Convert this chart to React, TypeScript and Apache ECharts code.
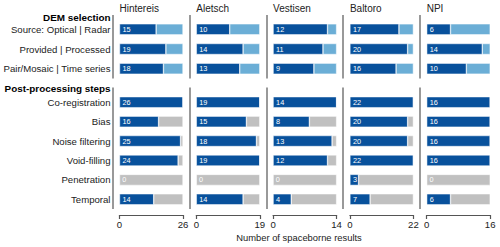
import React, { useEffect, useRef } from "react";
import * as echarts from "echarts";

const panels = ["Hintereis", "Aletsch", "Vestisen", "Baltoro", "NPI"];
const panelMax = [26, 19, 14, 22, 16];
const demCategories = ["Source: Optical | Radar", "Provided | Processed", "Pair/Mosaic | Time series"];
const postCategories = ["Co-registration", "Bias", "Noise filtering", "Void-filling", "Penetration", "Temporal"];
const demValues = [
  [15, 19, 18],
  [10, 14, 13],
  [12, 11, 9],
  [17, 20, 16],
  [6, 14, 10],
];
const postValues = [
  [26, 16, 25, 24, 0, 14],
  [19, 15, 18, 19, 0, 14],
  [14, 8, 13, 12, 0, 4],
  [22, 20, 20, 22, 3, 7],
  [16, 16, 16, 16, 0, 6],
];
const sectionTitles = ["DEM selection", "Post-processing steps"];
const axisTitle = "Number of spaceborne results";

const FONT = "'Liberation Sans', Arial, sans-serif";
const DARK = "#08519c";
const LIGHT = "#6baed6";
const GRAY = "#c0c0c0";
const TEXT = "#222";
const LINE = "#555";
const FS = 9.6;

const P_LEFT = 119.5;
const P_STEP = 76.8;
const P_W = 63.5;
const DEM_TOP = 19.5;
const DEM_H = 59;
const POST_TOP = 92.5;
const POST_H = 116.5;
const W = 500;
const H = 247;

export default function App() {
  const ref = useRef<HTMLDivElement>(null);
  useEffect(() => {
    if (!ref.current) return;
    const chart = echarts.init(ref.current, undefined, { renderer: "svg" });
    const grid: any[] = [];
    const xAxis: any[] = [];
    const yAxis: any[] = [];
    const series: any[] = [];
    const title: any[] = [];
    const graphic: any[] = [];

    panels.forEach((name, i) => {
      const left = P_LEFT + i * P_STEP;
      const max = panelMax[i];
      title.push({
        text: name,
        left,
        top: 3.5,
        padding: 0,
        textStyle: { fontFamily: FONT, fontSize: 10, fontWeight: "normal", color: TEXT },
      });
      [
        { top: DEM_TOP, h: DEM_H, cats: demCategories, vals: demValues[i], rem: LIGHT, showX: false },
        { top: POST_TOP, h: POST_H, cats: postCategories, vals: postValues[i], rem: GRAY, showX: true },
      ].forEach((g) => {
        const gi = grid.length;
        grid.push({ left, top: g.top, width: P_W, height: g.h, containLabel: false });
        xAxis.push({
          type: "value",
          gridIndex: gi,
          min: 0,
          max,
          interval: max,
          show: g.showX,
          offset: 6,
          splitLine: { show: false },
          axisLine: { show: true, lineStyle: { color: LINE, width: 1.2 } },
          axisTick: { show: true, length: 4, lineStyle: { color: LINE, width: 1.2 } },
          axisLabel: { fontFamily: FONT, fontSize: FS, color: TEXT, margin: 4 },
        });
        yAxis.push({
          type: "category",
          gridIndex: gi,
          data: g.cats,
          inverse: true,
          axisLine: { show: false },
          axisTick: { show: false },
          axisLabel: {
            show: i === 0,
            fontFamily: FONT,
            fontSize: FS,
            color: TEXT,
            margin: 9,
          },
        });
        series.push({
          type: "bar",
          xAxisIndex: gi,
          yAxisIndex: gi,
          stack: "s" + gi,
          barWidth: 11,
          data: g.vals,
          itemStyle: { color: DARK, borderColor: "#fff", borderWidth: 0.5 },
          label: {
            show: true,
            position: "insideLeft",
            distance: 3,
            fontFamily: FONT,
            fontSize: 7.3,
            color: "#fff",
          },
        });
        series.push({
          type: "bar",
          xAxisIndex: gi,
          yAxisIndex: gi,
          stack: "s" + gi,
          barWidth: 11,
          data: g.vals.map((v: number) => max - v),
          itemStyle: { color: g.rem, borderColor: "#fff", borderWidth: 0.5 },
        });
      });
      const lx = Math.round(left - 6.5);
      graphic.push({
        type: "line",
        shape: { x1: lx, y1: DEM_TOP - 4.5, x2: lx, y2: DEM_TOP + DEM_H },
        style: { stroke: LINE, lineWidth: 1.2 },
      });
      graphic.push({
        type: "line",
        shape: { x1: lx, y1: POST_TOP - 5, x2: lx, y2: POST_TOP + POST_H },
        style: { stroke: LINE, lineWidth: 1.2 },
      });
    });

    graphic.push({
      type: "text",
      x: 110.5,
      y: 17.5,
      style: {
        text: sectionTitles[0],
        font: `bold 9.9px ${FONT}`,
        fill: "#000",
        textAlign: "right",
        textVerticalAlign: "middle",
      },
    });
    graphic.push({
      type: "text",
      x: 110.5,
      y: 88.5,
      style: {
        text: sectionTitles[1],
        font: `bold 9.9px ${FONT}`,
        fill: "#000",
        textAlign: "right",
        textVerticalAlign: "middle",
      },
    });
    graphic.push({
      type: "text",
      x: 299,
      y: 237.5,
      style: {
        text: axisTitle,
        font: `9.4px ${FONT}`,
        fill: TEXT,
        textAlign: "center",
        textVerticalAlign: "middle",
      },
    });

    chart.setOption({
      animation: false,
      backgroundColor: "#fff",
      title,
      grid,
      xAxis,
      yAxis,
      series,
      graphic,
    });
    return () => chart.dispose();
  }, []);
  return (
    <div
      ref={ref}
      style={{ position: "fixed", left: 0, top: 0, width: W, height: H }}
    />
  );
}
